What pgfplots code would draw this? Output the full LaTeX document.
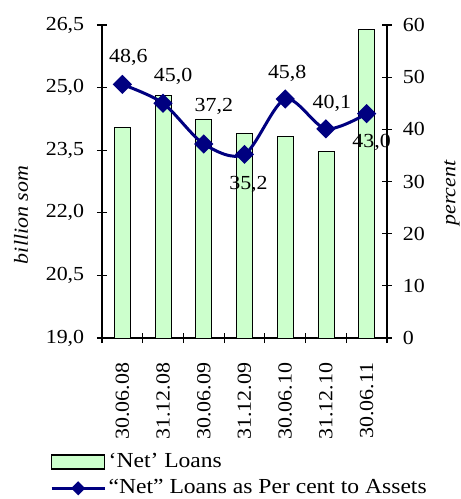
\documentclass[border=0pt]{standalone}
\usepackage{fontspec}
\setmainfont{Liberation Serif}[FakeStretch=1.1]
\usepackage{pgfplots}
\pgfplotsset{compat=1.18}
\pgfplotsset{/pgf/number format/assume math mode=true}
\definecolor{barfill}{HTML}{CCFFCC}
\definecolor{navyline}{HTML}{000080}
\pgfplotsset{
  linelegend/.style={legend image code/.code={\draw[mark repeat=2, mark phase=2, ##1, mark size=3.5bp] plot coordinates {(0bp,0bp) (26.5bp,0bp) (53bp,0bp)};}},
  barlegend/.style={legend image code/.code={\draw[fill=barfill, draw=black, line width=1.2bp] (0bp,-7bp) rectangle (53bp,7bp);}},
}
\begin{document}
\fontsize{20}{24}\selectfont
\begin{tikzpicture}[font=\fontsize{20}{24}\selectfont]
\path[use as bounding box] (-102bp,-161bp) rectangle (359bp,338bp);
\begin{axis}[
  scale only axis, width=285bp, height=313bp,
  at={(0,0)}, anchor=south west,
  xmin=-0.5, xmax=6.5, ymin=19, ymax=26.5,
  axis y line*=left, axis x line*=bottom,
  axis line style={-, line width=1.2bp},
  xtick={-0.5,0.5,1.5,2.5,3.5,4.5,5.5,6.5},
  x tick label as interval,
  xticklabels={30.06.08,31.12.08,30.06.09,31.12.09,30.06.10,31.12.10,30.06.11},
  xticklabel style={rotate=90, anchor=east},
  xticklabel shift=13bp,
  ytick={19,20.5,22,23.5,25,26.5},
  yticklabel style={/pgf/number format/.cd, fixed, fixed zerofill, precision=1, use comma},
  yticklabel shift=6bp,
  tick align=center, major tick length=10bp,
  tick style={black, line width=1.2bp},
  ylabel={\itshape billion som},
  ylabel style={at={(axis description cs:-0.284,0.393)}, anchor=center},
]
\addplot[ybar, bar width=16bp, fill=barfill, draw=black, line width=0.8bp]
  coordinates {(0,24.05)(1,24.82)(2,24.25)(3,23.91)(4,23.82)(5,23.48)(6,26.40)};
\end{axis}
\begin{axis}[
  scale only axis, width=285bp, height=313bp,
  at={(0,0)}, anchor=south west,
  xmin=-0.5, xmax=6.5, ymin=0, ymax=60,
  axis y line*=right, axis x line=none,
  axis line style={-, line width=1.2bp},
  ytick={0,10,20,30,40,50,60},
  yticklabel shift=4bp,
  tick align=center, major tick length=10bp,
  tick style={black, line width=1.2bp},
  ylabel={\itshape percent},
  ylabel style={at={(axis description cs:1.228,0.463)}, anchor=center},
  legend style={draw=none, fill=none, at={(axis description cs:-0.1825,-0.360)},
    anchor=north west, inner sep=0pt, row sep=4bp,
    font=\fontsize{21.5}{25}\selectfont,
    nodes={inner sep=2.5bp}},
  legend cell align=left,
]
\addlegendimage{barlegend}
\addlegendentry{‘Net’ Loans}
\addplot[navyline, line width=3bp, smooth, mark=square*, mark size=5.3bp,
  mark options={rotate=45, solid}, linelegend]
  coordinates {(0,48.6)(1,45.0)(2,37.2)(3,35.2)(4,45.8)(5,40.1)(6,43.0)};
\addlegendentry{“Net” Loans as Per cent to Assets}
\addplot[draw=none, mark=none, point meta=y,
  nodes near coords={\pgfmathprintnumber[fixed,fixed zerofill,precision=1,use comma]{\pgfplotspointmeta}},
  visualization depends on={\thisrow{dx} \as \dx},
  visualization depends on={\thisrow{dy} \as \dy},
  nodes near coords style={anchor=center, text=black, xshift=\dx bp, yshift=\dy bp}]
  table {
x y dx dy
0 48.6 6 27
1 45.0 10 27
2 37.2 10 38
3 35.2 4 -30
4 45.8 2 26
5 40.1 6 25
6 43.0 5 -29
};
\end{axis}
\end{tikzpicture}
\end{document}
